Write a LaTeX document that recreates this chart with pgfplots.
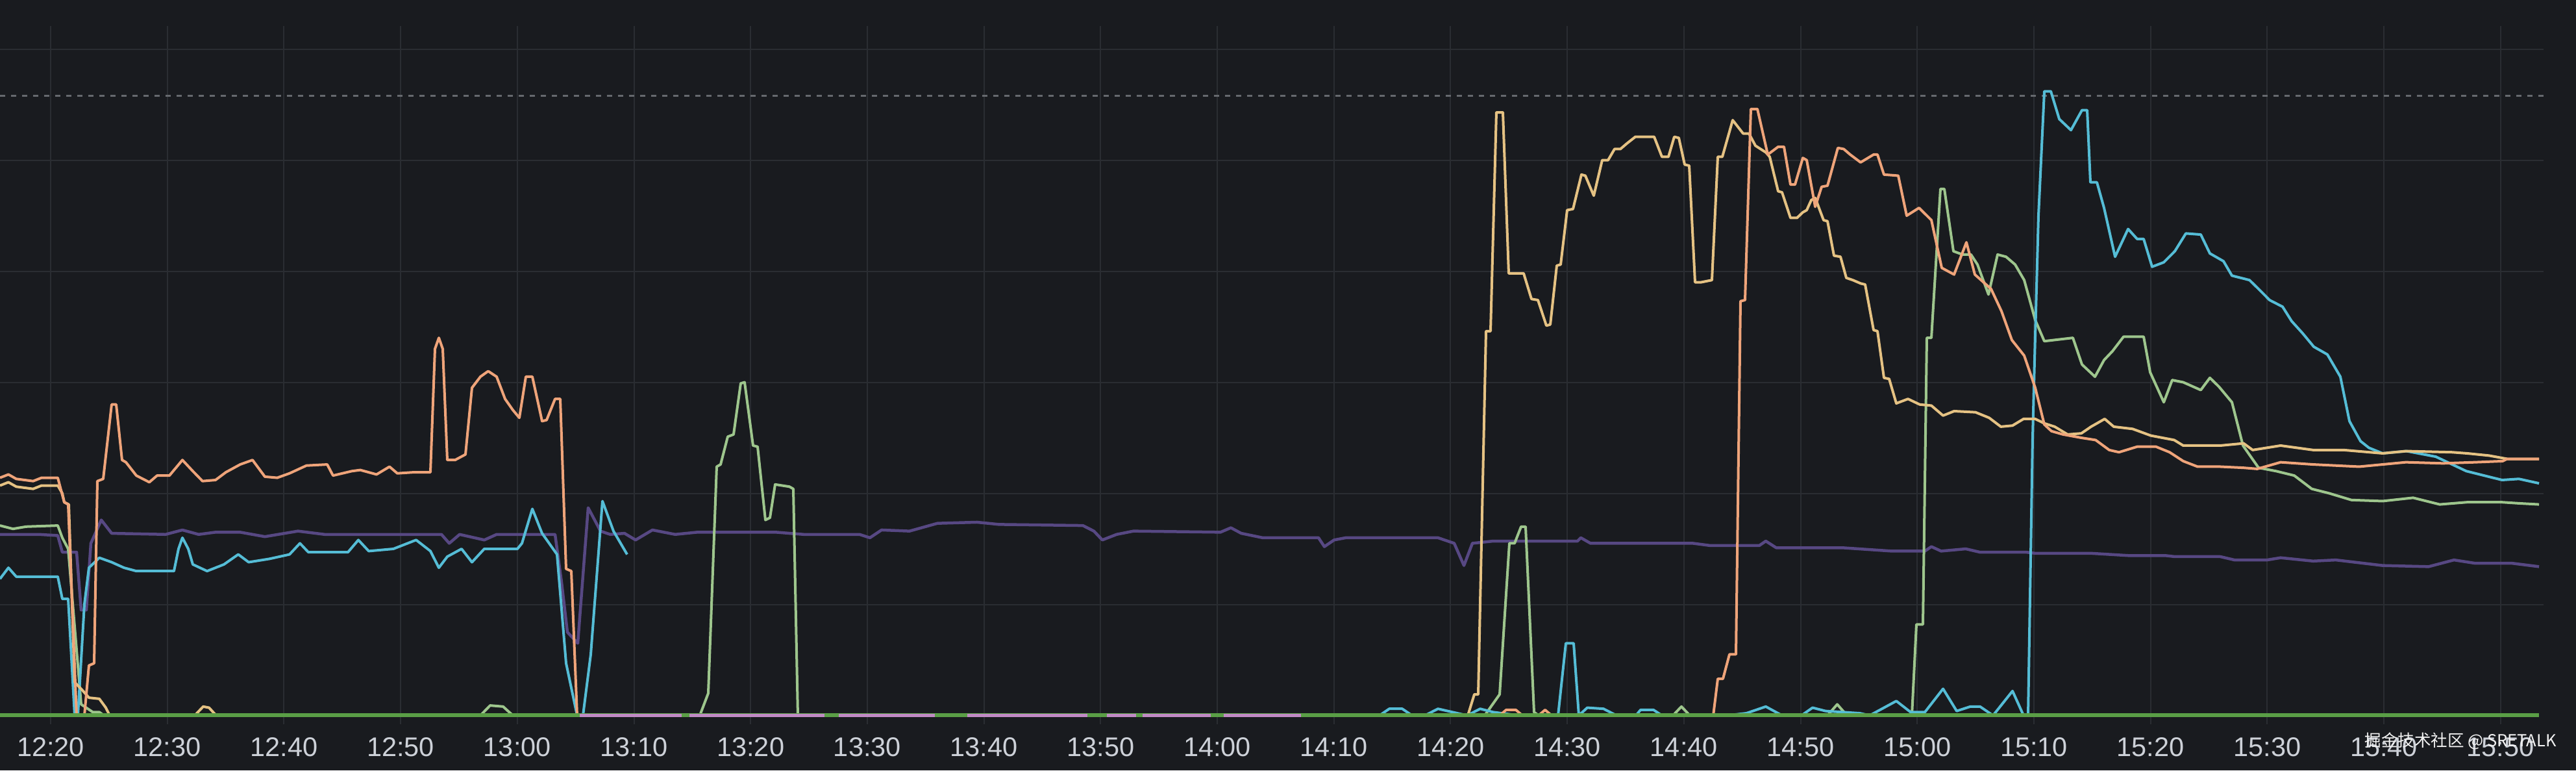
\documentclass[border=0pt]{standalone}
\usepackage{pgfplots}
\pgfplotsset{compat=1.18}
\usepackage{fontspec}
\setmainfont{Liberation Sans}
\newfontfamily\cjk{Noto Sans CJK SC}
\definecolor{bg}{HTML}{191B1F}
\definecolor{gridc}{HTML}{2A2D32}
\definecolor{dashc}{HTML}{66696E}
\definecolor{ticktext}{HTML}{CDD1D8}
\definecolor{salmon}{HTML}{EFA47A}
\definecolor{tanc}{HTML}{E5C283}
\definecolor{cyanl}{HTML}{55BDD6}
\definecolor{paleg}{HTML}{9EC68D}
\definecolor{purp}{HTML}{574883}
\definecolor{baseg}{HTML}{5A9E46}
\definecolor{pinkl}{HTML}{C08AC4}
\begin{document}
\begin{tikzpicture}
\begin{axis}[
  width=793.6pt, height=237.2pt, scale only axis,
  xmin=15.66, xmax=236.47, ymin=-0.497, ymax=6.439,
  x filter/.expression={20+(x-78)/17.97},
  axis background/.style={fill=bg},
  axis line style={draw=none},
  major tick length=0pt,
  ytick=\empty,
  xtick={20,30,...,230},
  xticklabels={12:20,12:30,12:40,12:50,13:00,13:10,13:20,13:30,13:40,13:50,14:00,14:10,14:20,14:30,14:40,14:50,15:00,15:10,15:20,15:30,15:40,15:50},
  xticklabel style={font=\fontsize{8.3}{9}\selectfont, text=ticktext, anchor=center, yshift=7.2pt},
  every axis plot/.append style={line width=0.8pt, line join=round, mark=none, sharp plot},
]
% grid
\pgfplotsinvokeforeach{20,30,...,230}{\draw[gridc, line width=0.4pt] (axis cs:#1,-0.08) -- (axis cs:#1,6.21);}
\pgfplotsinvokeforeach{1,2,...,6}{\draw[gridc, line width=0.4pt] (axis cs:15.66,#1) -- (axis cs:233.69,#1);}
% threshold
\addplot[dashc, line width=0.7pt, dash pattern=on 1.6pt off 1.8pt] coordinates {(0,5.58) (3918,5.58)};
% purple
\addplot[purp, line width=0.9pt] coordinates {(0,1.63) (60,1.63) (89,1.62) (96,1.47) (118,1.47) (125,0.95) (133,0.95) (140,1.55) (156,1.76) (172,1.64) (255,1.63) (281,1.67) (306,1.63) (332,1.65) (370,1.65) (408,1.61) (459,1.66) (500,1.63) (680,1.63) (692,1.55) (708,1.63) (746,1.58) (765,1.63) (855,1.63) (865,1.2) (874,0.75) (890,0.65) (906,1.87) (925,1.66) (940,1.63) (962,1.64) (979,1.58) (1005,1.67) (1040,1.63) (1074,1.65) (1195,1.65) (1238,1.63) (1324,1.63) (1340,1.6) (1358,1.67) (1401,1.66) (1444,1.73) (1505,1.74) (1539,1.72) (1668,1.71) (1685,1.66) (1698,1.58) (1720,1.63) (1746,1.66) (1880,1.65) (1896,1.69) (1912,1.64) (1945,1.6) (2031,1.6) (2040,1.52) (2055,1.58) (2073,1.6) (2215,1.6) (2240,1.55) (2255,1.35) (2268,1.55) (2300,1.57) (2430,1.57) (2435,1.6) (2450,1.55) (2608,1.55) (2634,1.53) (2710,1.53) (2720,1.57) (2736,1.51) (2838,1.51) (2914,1.48) (2965,1.48) (2975,1.52) (2990,1.48) (3028,1.5) (3050,1.47) (3121,1.47) (3135,1.46) (3221,1.46) (3278,1.44) (3335,1.44) (3350,1.43) (3420,1.43) (3442,1.4) (3492,1.4) (3513,1.42) (3563,1.39) (3598,1.4) (3670,1.35) (3741,1.34) (3780,1.4) (3813,1.37) (3870,1.37) (3911,1.34)};
% pale green
\addplot[paleg] coordinates {(0,1.71) (20,1.68) (40,1.7) (89,1.71) (96,1.6) (105,1.5) (115,0.8) (125,0.1) (143,0.03) (153,0.03) (160,0) (740,0) (755,0.09) (775,0.08) (790,0) (1078,0) (1091,0.2) (1104,2.24) (1110,2.26) (1121,2.51) (1130,2.53) (1141,2.99) (1147,3.0) (1160,2.43) (1167,2.42) (1179,1.76) (1186,1.78) (1194,2.08) (1216,2.06) (1222,2.04) (1229,0) (2287,0) (2310,0.19) (2325,1.55) (2333,1.55) (2343,1.7) (2350,1.7) (2363,0.03) (2370,0) (2577,0) (2590,0.08) (2603,0) (2815,0) (2830,0.1) (2845,0) (2945,0) (2952,0.82) (2962,0.82) (2968,3.4) (2975,3.4) (2989,4.74) (2995,4.74) (3009,4.18) (3023,4.15) (3036,4.15) (3046,4.06) (3063,3.79) (3077,4.15) (3090,4.13) (3104,4.06) (3118,3.92) (3135,3.56) (3149,3.37) (3193,3.4) (3207,3.16) (3227,3.05) (3241,3.2) (3254,3.28) (3271,3.41) (3302,3.41) (3312,3.09) (3333,2.82) (3346,3.02) (3363,3.0) (3390,2.93) (3404,3.04) (3418,2.96) (3438,2.82) (3455,2.43) (3479,2.23) (3506,2.2) (3534,2.16) (3561,2.04) (3588,2.0) (3622,1.94) (3670,1.93) (3717,1.96) (3758,1.9) (3800,1.92) (3854,1.92) (3880,1.91) (3911,1.9)};
% cyan
\addplot[cyanl] coordinates {(0,1.23) (13,1.33) (25,1.25) (89,1.25) (96,1.05) (105,1.05) (115,0) (120,0) (130,1.0) (137,1.33) (153,1.42) (172,1.38) (191,1.33) (210,1.3) (268,1.3) (275,1.5) (281,1.6) (290,1.5) (297,1.36) (319,1.3) (345,1.36) (367,1.45) (383,1.38) (415,1.41) (446,1.45) (462,1.55) (475,1.47) (536,1.47) (552,1.58) (568,1.48) (606,1.5) (641,1.58) (663,1.48) (676,1.33) (689,1.43) (711,1.5) (727,1.38) (746,1.5) (797,1.5) (804,1.55) (820,1.86) (835,1.64) (858,1.45) (872,0.47) (889,0) (898,0) (910,0.55) (928,1.93) (945,1.66) (966,1.45)};
\addplot[cyanl] coordinates {(2125,0) (2140,0.06) (2160,0.06) (2175,0) (2195,0) (2215,0.06) (2230,0.04) (2260,0) (2280,0.06) (2300,0.03) (2340,0) (2400,0) (2412,0.65) (2424,0.65) (2432,0) (2445,0.07) (2470,0.06) (2490,0) (2520,0) (2527,0.05) (2547,0.05) (2560,0) (2660,0) (2690,0.02) (2720,0.08) (2745,0) (2775,0) (2792,0.07) (2812,0.04) (2865,0.02) (2880,0) (2921,0.13) (2943,0.03) (2965,0.03) (2993,0.24) (3014,0.04) (3035,0.08) (3050,0.08) (3070,0) (3100,0.22) (3117,0) (3124,0) (3131,2.5) (3134,3.2) (3140,4.5) (3149,5.62) (3159,5.62) (3172,5.37) (3190,5.27) (3207,5.45) (3215,5.45) (3220,4.8) (3230,4.8) (3241,4.57) (3258,4.13) (3278,4.38) (3292,4.29) (3302,4.29) (3315,4.04) (3333,4.08) (3350,4.18) (3367,4.34) (3390,4.33) (3404,4.16) (3425,4.09) (3438,3.96) (3465,3.92) (3479,3.84) (3496,3.74) (3516,3.68) (3530,3.55) (3547,3.44) (3564,3.32) (3585,3.25) (3605,3.05) (3619,2.65) (3636,2.47) (3649,2.41) (3670,2.36) (3707,2.38) (3752,2.33) (3799,2.2) (3854,2.12) (3880,2.13) (3911,2.09)};
% tan
\addplot[tanc] coordinates {(0,2.07) (13,2.1) (25,2.06) (51,2.04) (64,2.07) (89,2.07) (96,2.0) (99,1.92) (106,1.9) (115,0.3) (128,0.22) (137,0.16) (153,0.15) (163,0.07) (169,0) (300,0) (313,0.08) (322,0.07) (333,0) (2261,0) (2271,0.19) (2277,0.19) (2289,3.46) (2296,3.46) (2305,5.43) (2315,5.43) (2324,3.98) (2347,3.98) (2359,3.75) (2369,3.74) (2382,3.51) (2388,3.52) (2398,4.05) (2404,4.06) (2414,4.55) (2423,4.56) (2436,4.87) (2442,4.86) (2455,4.68) (2468,5.0) (2477,5.0) (2487,5.1) (2496,5.1) (2506,5.15) (2519,5.21) (2548,5.21) (2560,5.03) (2570,5.03) (2579,5.21) (2586,5.2) (2595,4.96) (2602,4.95) (2611,3.9) (2620,3.9) (2637,3.92) (2646,5.03) (2653,5.03) (2669,5.36) (2685,5.24) (2694,5.24) (2704,5.13) (2720,5.07) (2726,5.03) (2739,4.72) (2745,4.71) (2758,4.48) (2768,4.48) (2777,4.53) (2783,4.55) (2790,4.64) (2796,4.66) (2809,4.46) (2815,4.45) (2825,4.14) (2835,4.13) (2844,3.94) (2854,3.92) (2866,3.89) (2873,3.88) (2886,3.47) (2892,3.46) (2902,3.04) (2910,3.03) (2921,2.81) (2939,2.85) (2957,2.8) (2975,2.79) (2993,2.7) (3010,2.74) (3043,2.73) (3064,2.68) (3082,2.6) (3100,2.61) (3117,2.67) (3135,2.67) (3149,2.63) (3165,2.6) (3185,2.53) (3206,2.54) (3221,2.6) (3242,2.67) (3256,2.6) (3285,2.58) (3313,2.52) (3349,2.48) (3363,2.43) (3420,2.43) (3456,2.45) (3470,2.39) (3513,2.43) (3563,2.39) (3610,2.39) (3670,2.36) (3706,2.38) (3777,2.37) (3800,2.36) (3834,2.34) (3862,2.31) (3911,2.31)};
% salmon
\addplot[salmon] coordinates {(0,2.14) (13,2.17) (25,2.13) (51,2.11) (64,2.14) (89,2.14) (99,1.92) (105,1.9) (118,0) (130,0) (137,0.45) (145,0.47) (150,2.11) (159,2.13) (172,2.8) (179,2.8) (188,2.3) (194,2.28) (210,2.16) (230,2.1) (242,2.16) (261,2.16) (281,2.3) (297,2.2) (312,2.11) (332,2.12) (348,2.19) (370,2.26) (389,2.3) (408,2.15) (427,2.14) (446,2.18) (472,2.25) (504,2.26) (513,2.16) (542,2.2) (555,2.21) (580,2.17) (600,2.24) (612,2.18) (638,2.19) (663,2.19) (670,3.3) (676,3.4) (682,3.3) (689,2.3) (701,2.3) (717,2.35) (727,2.95) (740,3.05) (752,3.1) (765,3.05) (778,2.85) (790,2.75) (800,2.68) (810,3.05) (820,3.05) (835,2.65) (842,2.66) (855,2.85) (863,2.85) (872,1.32) (880,1.3) (889,0) (2310,0) (2320,0.05) (2335,0.05) (2345,0) (2370,0) (2380,0.05) (2390,0) (2639,0) (2646,0.33) (2654,0.33) (2664,0.55) (2674,0.55) (2681,3.73) (2688,3.74) (2697,5.46) (2707,5.46) (2723,5.05) (2739,5.12) (2748,5.12) (2758,4.78) (2765,4.78) (2777,5.02) (2783,5.0) (2796,4.58) (2806,4.76) (2815,4.77) (2831,5.11) (2840,5.1) (2850,5.05) (2866,4.98) (2886,5.05) (2892,5.05) (2902,4.87) (2924,4.86) (2937,4.5) (2956,4.57) (2975,4.46) (2991,4.03) (3010,3.97) (3029,4.26) (3042,3.97) (3067,3.84) (3083,3.64) (3099,3.38) (3118,3.24) (3135,2.95) (3149,2.62) (3160,2.56) (3178,2.53) (3206,2.5) (3228,2.48) (3249,2.39) (3264,2.37) (3292,2.42) (3321,2.42) (3342,2.37) (3363,2.29) (3385,2.24) (3420,2.24) (3456,2.23) (3477,2.22) (3513,2.28) (3563,2.26) (3634,2.24) (3670,2.26) (3706,2.28) (3763,2.27) (3813,2.28) (3855,2.29) (3862,2.31) (3911,2.31)};
% green baseline
\addplot[baseg, line width=1.2pt] coordinates {(0,0) (3911,0)};
% pink baseline pieces
\addplot[pinkl, line width=1.0pt] coordinates {(893,0) (1050,0)};
\addplot[pinkl, line width=1.0pt] coordinates {(1062,0) (1270,0)};
\addplot[pinkl, line width=1.0pt] coordinates {(1292,0) (1440,0)};
\addplot[pinkl, line width=1.0pt] coordinates {(1490,0) (1675,0)};
\addplot[pinkl, line width=1.0pt] coordinates {(1705,0) (1750,0)};
\addplot[pinkl, line width=1.0pt] coordinates {(1760,0) (1865,0)};
\addplot[pinkl, line width=1.0pt] coordinates {(1885,0) (2004,0)};
% watermark
\node[text=white!90!gray, font=\cjk\fontsize{5.1}{6}\selectfont, anchor=center] at (axis cs:226.57,-0.228) {掘金技术社区 @ SRETALK};
\end{axis}
\end{tikzpicture}
\end{document}
